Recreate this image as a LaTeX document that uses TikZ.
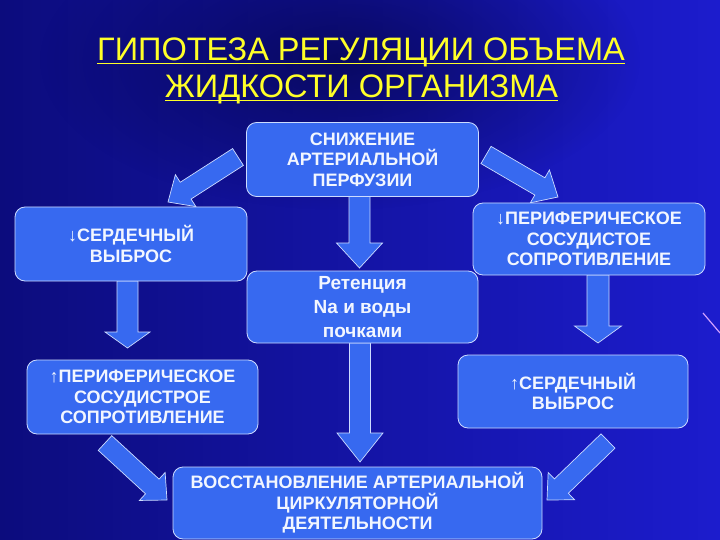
\documentclass[tikz,border=0pt]{standalone}
\usepackage{fontspec}
\setmainfont{Liberation Sans}
\usetikzlibrary{calc,fadings}
\definecolor{bgL}{RGB}{12,12,125}
\definecolor{bgM}{RGB}{8,8,108}
\definecolor{bgR}{RGB}{28,28,205}
\definecolor{bgDark}{RGB}{4,4,70}
\definecolor{boxblue}{RGB}{55,105,240}
\definecolor{boxedge}{RGB}{205,220,255}
\definecolor{boxtext}{RGB}{242,246,255}
\definecolor{titleyellow}{RGB}{255,255,40}
\definecolor{streak}{RGB}{210,160,255}
\tikzfading[name=softglow, inner color=transparent!0, outer color=transparent!100]
\newcommand\ulline[1]{\setbox0\hbox{#1}\rlap{\color{titleyellow}\rule[-3.5pt]{\wd0}{1.9pt}}\box0}
\newcommand\blockarr[5]{%
  \coordinate (bahead) at ($(#2)!#5!(#1)$);
  \draw[blockarrow] ($(#1)!#3!90:(#2)$) -- ($(bahead)!#3!90:(#2)$) -- ($(bahead)!#4!90:(#2)$) -- (#2)
     -- ($(bahead)!#4!-90:(#2)$) -- ($(bahead)!#3!-90:(#2)$) -- ($(#1)!#3!-90:(#2)$) -- cycle;}
\tikzset{
  box/.style={draw=boxedge, line width=0.8pt, fill=boxblue, rounded corners=10pt,
    text=boxtext, align=center, inner sep=2pt,
    font=\fontsize{18}{20.5}\selectfont\bfseries},
  blockarrow/.style={draw=boxedge, line width=0.7pt, fill=boxblue, line join=miter},
  titletext/.style={text=titleyellow, anchor=base, inner sep=0pt,
    font=\fontsize{32.5}{40}\selectfont}
}
\begin{document}
\begin{tikzpicture}[x=1pt,y=-1pt]
\useasboundingbox (0,0) rectangle (720,540);
% background
\shade[left color=bgL, middle color=bgM, right color=bgR] (0,0) rectangle (720,540);
\fill[bgDark, path fading=softglow, opacity=0.7] (340,60) ellipse (300 and 150);
\draw[streak, line width=1.2pt] (703,313) -- (720,333);
% title
\node[titletext] (title1) at (361,61) {\ulline{ГИПОТЕЗА РЕГУЛЯЦИИ ОБЪЕМА}};
\node[titletext] (title2) at (361.5,98) {\ulline{ЖИДКОСТИ ОРГАНИЗМА}};
% arrow end points
\coordinate (a1s) at (238,157); \coordinate (a1e) at (168,202);
\coordinate (a2s) at (486,155); \coordinate (a2e) at (558,197);
\coordinate (a3s) at (359.5,196); \coordinate (a3e) at (359.5,268);
\coordinate (a4s) at (127.5,281); \coordinate (a4e) at (127.5,348);
\coordinate (a5s) at (598,275); \coordinate (a5e) at (598,343);
\coordinate (a6s) at (360,343); \coordinate (a6e) at (360,462);
\coordinate (a7s) at (105,443); \coordinate (a7e) at (167,500);
\coordinate (a8s) at (608,441); \coordinate (a8e) at (547,500);
% arrows
\blockarr{a1s}{a1e}{10pt}{19pt}{21pt}
\blockarr{a2s}{a2e}{10pt}{19pt}{21pt}
\blockarr{a3s}{a3e}{10.5pt}{23pt}{25pt}
\blockarr{a4s}{a4e}{10.5pt}{22.5pt}{16pt}
\blockarr{a5s}{a5e}{11pt}{23.5pt}{17pt}
\blockarr{a6s}{a6e}{10.5pt}{23pt}{29pt}
\blockarr{a7s}{a7e}{10pt}{19pt}{20pt}
\blockarr{a8s}{a8e}{10pt}{19pt}{20pt}
% boxes
\node[box, minimum width=232pt, minimum height=74pt] (top) at (362.5,159.5)
  {СНИЖЕНИЕ\\АРТЕРИАЛЬНОЙ\\ПЕРФУЗИИ};
\node[box, minimum width=232pt, minimum height=74pt] (left) at (131,244)
  {{\mdseries↓}СЕРДЕЧНЫЙ\\ВЫБРОС};
\node[box, minimum width=232pt, minimum height=72pt] (right) at (589,239)
  {{\mdseries↓}ПЕРИФЕРИЧЕСКОЕ\\СОСУДИСТОЕ\\СОПРОТИВЛЕНИЕ};
\node[box, minimum width=231pt, minimum height=72pt, text depth=0pt, font=\fontsize{19}{24}\selectfont\bfseries] (ret) at (362.5,307)
  {Ретенция\\Na и воды\\почками};
\node[box, minimum width=231pt, minimum height=74pt] (ll) at (142.5,397)
  {{\mdseries↑}ПЕРИФЕРИЧЕСКОЕ\\СОСУДИСТРОЕ\\СОПРОТИВЛЕНИЕ};
\node[box, minimum width=230pt, minimum height=73pt] (lr) at (573,391.5)
  {{\mdseries↑}СЕРДЕЧНЫЙ\\ВЫБРОС};
\node[box, minimum width=369pt, minimum height=72pt] (bot) at (357.5,503)
  {ВОССТАНОВЛЕНИЕ АРТЕРИАЛЬНОЙ\\ЦИРКУЛЯТОРНОЙ\\ДЕЯТЕЛЬНОСТИ};
\end{tikzpicture}
\end{document}
